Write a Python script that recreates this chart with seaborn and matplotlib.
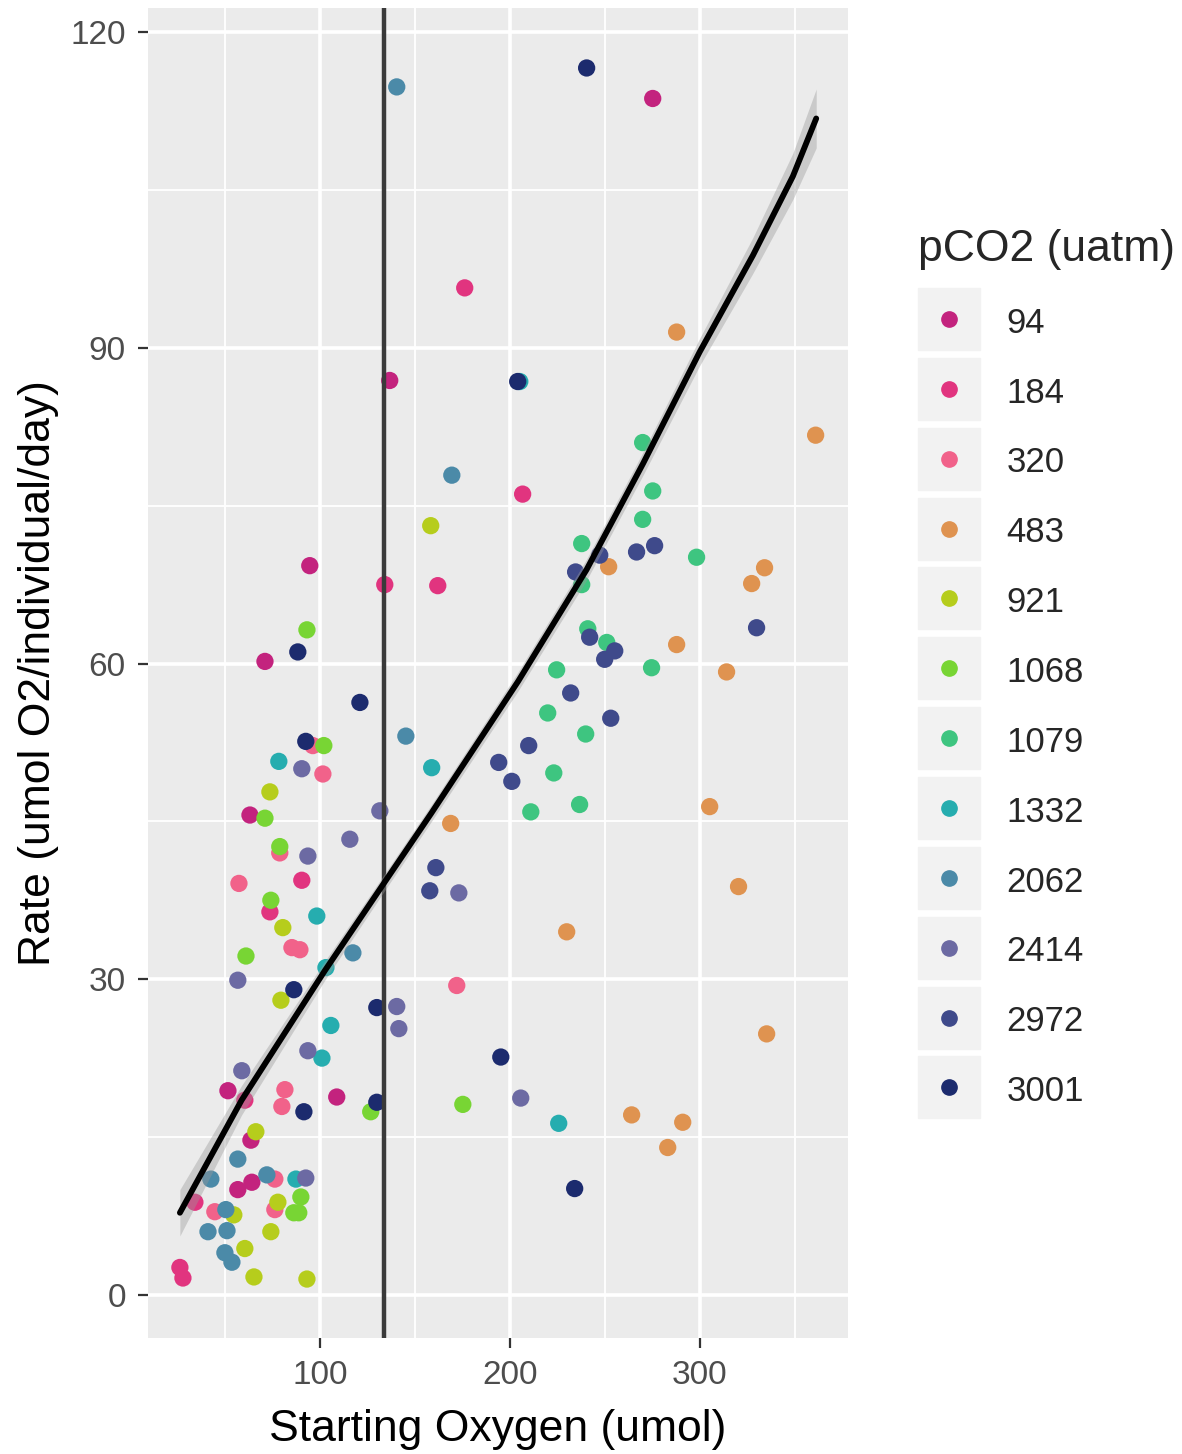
import matplotlib
matplotlib.use("Agg")
import matplotlib.pyplot as plt
from matplotlib.lines import Line2D
from matplotlib.legend_handler import HandlerTuple
import seaborn as sns
import pandas as pd
import numpy as np

# valeurs (oxygene de depart, taux) par niveau de pCO2
o2_94 = [275.3, 136.8, 94.7, 71.1, 63.2, 51.6, 108.9, 63.7, 64.2, 56.8]
rate_94 = [113.7, 86.9, 69.3, 60.2, 45.6, 19.4, 18.8, 14.7, 10.7, 10.0]

o2_184 = [176.3, 206.8, 162.1, 134.2, 90.5, 73.7, 60.5, 34.2, 26.3, 27.9]
rate_184 = [95.7, 76.1, 67.4, 67.5, 39.4, 36.4, 18.5, 8.8, 2.6, 1.6]

o2_320 = [96.3, 101.6, 78.9, 57.4, 85.3, 89.5, 172.1, 81.6, 80.0, 76.3, 76.3, 44.7]
rate_320 = [52.2, 49.5, 42.0, 39.1, 33.0, 32.8, 29.4, 19.5, 17.9, 11.0, 8.1, 7.9]

o2_483 = [287.9, 361.1, 252.1, 334.2, 327.4, 287.9, 314.2, 168.9, 305.3, 320.5,
          230.0, 335.3, 264.2, 291.1, 283.2]
rate_483 = [91.5, 81.7, 69.2, 69.1, 67.6, 61.8, 59.2, 44.8, 46.4, 38.8,
            34.5, 24.8, 17.1, 16.4, 14.0]

o2_921 = [158.4, 73.7, 80.5, 79.5, 66.3, 77.9, 54.7, 74.2, 60.5, 65.3, 93.2]
rate_921 = [73.1, 47.8, 34.9, 28.0, 15.5, 8.8, 7.6, 6.0, 4.4, 1.7, 1.5]

o2_1068 = [93.2, 102.1, 71.1, 78.9, 74.2, 61.1, 175.3, 126.8, 90.0, 88.9, 86.3]
rate_1068 = [63.2, 52.2, 45.3, 42.6, 37.5, 32.2, 18.1, 17.4, 9.3, 7.8, 7.8]

o2_1079 = [270.0, 275.3, 270.0, 237.9, 298.4, 237.9, 241.1, 251.1, 224.7, 274.7,
           220.0, 240.0, 223.2, 211.1, 236.8]
rate_1079 = [81.0, 76.4, 73.7, 71.4, 70.1, 67.5, 63.3, 62.0, 59.4, 59.6,
             55.3, 53.3, 49.6, 45.9, 46.6]

o2_1332 = [205.3, 158.9, 78.4, 98.4, 103.2, 105.8, 101.1, 87.4, 225.8]
rate_1332 = [86.8, 50.1, 50.7, 36.0, 31.1, 25.6, 22.5, 11.0, 16.3]

o2_2062 = [140.5, 169.5, 145.3, 117.4, 56.8, 42.6, 72.1, 50.5, 41.1, 51.1, 50.0, 53.7]
rate_2062 = [114.8, 77.9, 53.1, 32.5, 12.9, 11.0, 11.4, 8.1, 6.0, 6.1, 4.0, 3.1]

o2_2414 = [90.5, 131.6, 115.8, 93.7, 173.2, 56.8, 140.5, 141.6, 93.7, 58.9, 92.6, 205.8]
rate_2414 = [50.0, 46.0, 43.3, 41.7, 38.2, 29.9, 27.4, 25.3, 23.2, 21.3, 11.1, 18.7]

o2_2972 = [247.4, 266.8, 276.3, 234.7, 330.0, 242.1, 255.3, 250.0, 232.1, 253.2,
           210.0, 194.2, 201.1, 161.1, 157.9]
rate_2972 = [70.3, 70.6, 71.2, 68.7, 63.4, 62.5, 61.2, 60.4, 57.2, 54.8,
             52.2, 50.6, 48.8, 40.6, 38.4]

o2_3001 = [240.5, 204.2, 88.4, 121.1, 92.6, 86.3, 130.0, 91.6, 130.0, 195.3, 234.2]
rate_3001 = [116.6, 86.8, 61.1, 56.3, 52.6, 29.0, 27.3, 17.4, 18.3, 22.6, 10.1]

niveaux = ["94", "184", "320", "483", "921", "1068", "1079", "1332",
           "2062", "2414", "2972", "3001"]
couleurs = ["#C3237E", "#E1347F", "#F1628A", "#DF9350", "#B6CD1C", "#78D534",
            "#3EC580", "#26ADAF", "#4B8AA8", "#6C6AA3", "#3F4A8B", "#1C2B6E"]

# courbe de lissage, avec demi-largeur de l'intervalle
fit_o2 = [26.3, 58.8, 102.6, 133.3, 158.8, 204.4, 240.4, 270.2, 300.0, 328.1, 349.1, 361.4]
fit_rate = [7.8, 18.5, 30.8, 39.0, 45.8, 58.3, 68.9, 79.0, 89.6, 98.8, 106.3, 111.8]
fit_ic = [2.2, 1.4, 0.9, 0.8, 0.8, 0.9, 1.0, 1.1, 1.3, 1.7, 2.2, 2.8]

seuil_o2 = 134  # ligne verticale

groupes = {
    "94": (o2_94, rate_94), "184": (o2_184, rate_184), "320": (o2_320, rate_320),
    "483": (o2_483, rate_483), "921": (o2_921, rate_921), "1068": (o2_1068, rate_1068),
    "1079": (o2_1079, rate_1079), "1332": (o2_1332, rate_1332),
    "2062": (o2_2062, rate_2062), "2414": (o2_2414, rate_2414),
    "2972": (o2_2972, rate_2972), "3001": (o2_3001, rate_3001),
}
donnees = pd.concat(
    [pd.DataFrame({"o2": x, "rate": y, "pco2": k}) for k, (x, y) in groupes.items()],
    ignore_index=True,
)
palette = dict(zip(niveaux, couleurs))

sns.set_theme(style="darkgrid", rc={
    "axes.facecolor": "#EBEBEB",
    "grid.color": "white",
    "axes.edgecolor": "#EBEBEB",
})
plt.rcParams["font.family"] = ["Liberation Sans", "DejaVu Sans"]

fig = plt.figure(figsize=(11.82, 14.54), dpi=100)
ax = fig.add_axes([0.1252, 0.0798, 0.592, 0.9147])

sns.scatterplot(data=donnees, x="o2", y="rate", hue="pco2", hue_order=niveaux,
                palette=palette, s=155, linewidth=0, legend=False, ax=ax, zorder=3)
ax.axvline(seuil_o2, color="#3A3A3A", lw=3.2, zorder=4)

bas = np.array(fit_rate) - np.array(fit_ic)
haut = np.array(fit_rate) + np.array(fit_ic)
ax.fill_between(fit_o2, bas, haut, color="#999999", alpha=0.4, lw=0, zorder=5)
sns.lineplot(x=fit_o2, y=fit_rate, color="black", lw=4.2, sort=False, ax=ax, zorder=6)

ax.set_xlim(9.5, 378)
ax.set_ylim(-4.1, 122.3)
ax.set_xticks([100, 200, 300])
ax.set_yticks([0, 30, 60, 90, 120])
ax.set_xticks([50, 150, 250, 350], minor=True)
ax.set_yticks([15, 45, 75, 105], minor=True)
ax.grid(which="major", color="white", lw=2.6)
ax.grid(which="minor", color="white", lw=1.3)
ax.tick_params(which="major", length=7, width=1.6, color="#333333",
               labelsize=24, labelcolor="#4D4D4D", pad=9, bottom=True, left=True)
ax.tick_params(which="minor", length=0)
for s in ax.spines.values():
    s.set_visible(False)
ax.set_xlabel("Starting Oxygen (umol)", fontsize=32, color="black", labelpad=13)
ax.set_ylabel("Rate (umol O2/individual/day)", fontsize=32, color="black", labelpad=8)

poignees = [(Line2D([], [], marker="s", ls="", markersize=45, color="#F2F2F2"),
             Line2D([], [], marker="o", ls="", markersize=11, color=c))
            for c in couleurs]
leg = fig.legend(poignees, niveaux, handler_map={tuple: HandlerTuple(ndivide=1)},
                 title="pCO2 (uatm)", loc="upper left", bbox_to_anchor=(0.7618, 0.8545),
                 fontsize=25, title_fontsize=32, frameon=False, alignment="left",
                 handlelength=1.8, handleheight=1.0, labelspacing=1.02,
                 handletextpad=0.75, borderpad=0)

fig.savefig("out.png", dpi=100)
